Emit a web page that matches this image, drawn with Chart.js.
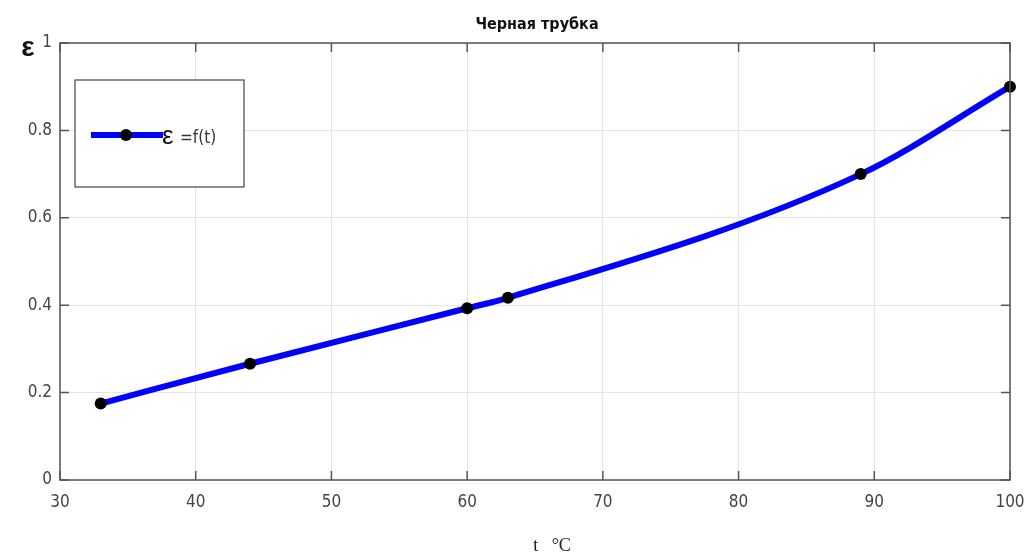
<!DOCTYPE html>
<html>
<head>
<meta charset="utf-8">
<script src="https://cdn.jsdelivr.net/npm/chart.js@4"></script>
<style>
html,body{margin:0;padding:0;background:#fff;}
#wrap{width:1025px;height:556px;position:relative;}
</style>
</head>
<body>
<div id="wrap"><canvas id="c" width="1025" height="556"></canvas></div>
<script>
const temps = [33, 44, 60, 63, 89, 100];
const emissivity = [0.175, 0.266, 0.393, 0.417, 0.70, 0.90];
const xTicks = [30, 40, 50, 60, 70, 80, 90, 100];
const yTicks = [0, 0.2, 0.4, 0.6, 0.8, 1];
const titleText = 'Черная трубка';
const legendText = '=f(t)';
const yLabel = 'ε';
const xLabel = 't   °C';

const narrow = '"DejaVu Sans Condensed", "Liberation Sans", sans-serif';

const framePlugin = {
  id: 'frame',
  afterDraw(chart) {
    const ctx = chart.ctx;
    const a = chart.chartArea;
    const xs = chart.scales.x, ys = chart.scales.y;
    ctx.save();
    ctx.strokeStyle = '#555';
    ctx.lineWidth = 1.5;
    ctx.strokeRect(a.left, a.top, a.right - a.left, a.bottom - a.top);
    ctx.beginPath();
    xTicks.forEach(v => {
      const px = xs.getPixelForValue(v);
      ctx.moveTo(px, a.bottom); ctx.lineTo(px, a.bottom - 9);
      ctx.moveTo(px, a.top); ctx.lineTo(px, a.top + 9);
    });
    yTicks.forEach(v => {
      const py = ys.getPixelForValue(v);
      ctx.moveTo(a.left, py); ctx.lineTo(a.left + 9, py);
      ctx.moveTo(a.right, py); ctx.lineTo(a.right - 9, py);
    });
    ctx.stroke();

    // legend box
    const lx = 75, ly = 80, lw = 169, lh = 107;
    ctx.fillStyle = '#fff';
    ctx.fillRect(lx, ly, lw, lh);
    ctx.strokeStyle = '#444';
    ctx.lineWidth = 1.2;
    ctx.strokeRect(lx, ly, lw, lh);
    ctx.strokeStyle = '#0000ff';
    ctx.lineWidth = 6;
    ctx.beginPath();
    ctx.moveTo(91, 135); ctx.lineTo(163, 135);
    ctx.stroke();
    ctx.fillStyle = '#000';
    ctx.beginPath();
    ctx.arc(126, 135, 6, 0, Math.PI * 2);
    ctx.fill();
    ctx.fillStyle = '#111';
    ctx.textBaseline = 'middle';
    ctx.textAlign = 'left';
    ctx.font = '26px "Liberation Sans", sans-serif';
    ctx.fillText('ε', 162, 137);
    ctx.font = '17px ' + narrow;
    ctx.fillStyle = '#333';
    ctx.fillText(legendText, 180, 139);

    // title
    ctx.fillStyle = '#111';
    ctx.textAlign = 'center';
    ctx.font = 'bold 16px ' + narrow;
    ctx.fillText(titleText, 537, 25);

    // y label
    ctx.font = 'bold 28px "Liberation Sans", sans-serif';
    ctx.fillText(yLabel, 28, 48);

    // x label
    ctx.font = '18px "Liberation Serif", serif';
    ctx.fillStyle = '#222';
    ctx.fillText(xLabel, 552, 546);
    ctx.restore();
  }
};

new Chart(document.getElementById('c'), {
  type: 'scatter',
  data: {
    datasets: [{
      label: 'ε =f(t)',
      data: temps.map((t, i) => ({ x: t, y: emissivity[i] })),
      showLine: true,
      borderColor: '#0000ff',
      borderWidth: 6,
      tension: 0.4,
      cubicInterpolationMode: 'monotone',
      pointRadius: 6,
      pointBackgroundColor: '#000',
      pointBorderColor: '#000',
      pointBorderWidth: 0,
      clip: false
    }]
  },
  options: {
    responsive: false,
    animation: false,
    layout: { padding: { left: 0, right: 15, top: 43, bottom: 0 } },
    plugins: { legend: { display: false }, title: { display: false }, tooltip: { enabled: false } },
    scales: {
      x: {
        type: 'linear', min: 30, max: 100,
        afterBuildTicks: s => { s.ticks = xTicks.map(v => ({ value: v })); },
        afterFit: s => { s.height = 76; s.paddingLeft = 0; s.paddingRight = 0; },
        grid: { color: '#e4e4e4', lineWidth: 1, drawTicks: false },
        border: { display: false },
        ticks: { padding: 12, color: '#444', font: { size: 17, family: narrow }, maxRotation: 0 }
      },
      y: {
        type: 'linear', min: 0, max: 1,
        afterBuildTicks: s => { s.ticks = yTicks.map(v => ({ value: v })); },
        afterFit: s => { s.width = 60; s.paddingTop = 0; s.paddingBottom = 0; },
        grid: { color: '#e4e4e4', lineWidth: 1, drawTicks: false },
        border: { display: false },
        ticks: { padding: 8, color: '#444', font: { size: 17, family: narrow }, callback: v => String(v) }
      }
    }
  },
  plugins: [framePlugin]
});
</script>
</body>
</html>
